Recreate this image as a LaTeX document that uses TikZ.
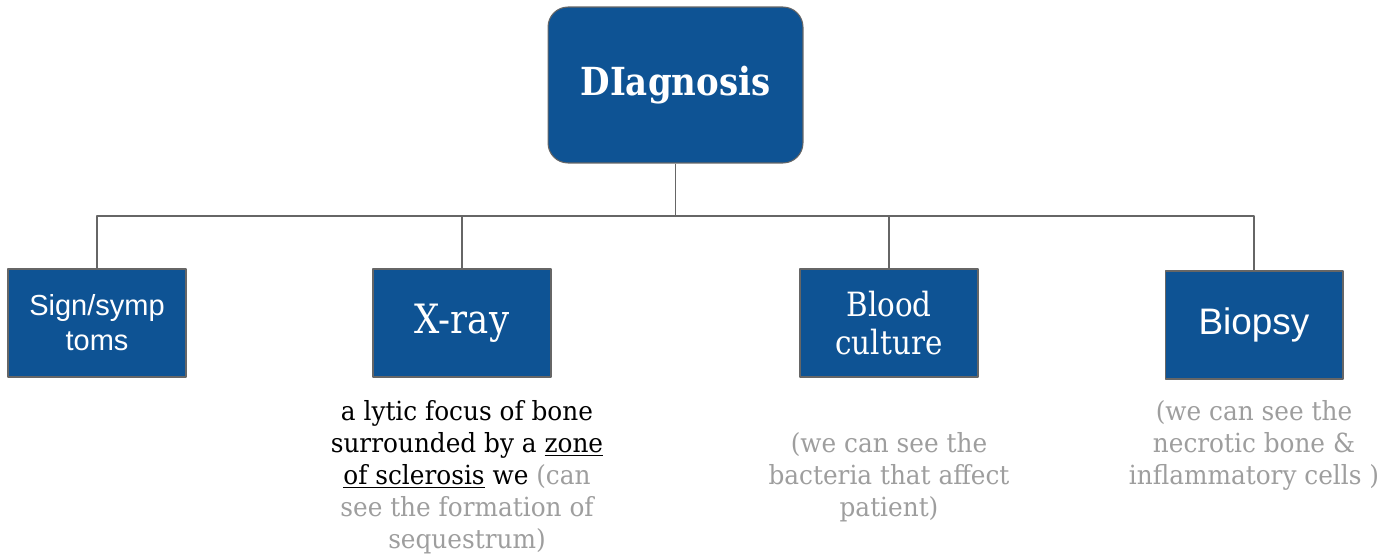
\documentclass[tikz,border=0pt]{standalone}
\usepackage{fontspec}
\setmainfont[FakeStretch=0.88]{DejaVu Serif}
\newfontfamily\notefont[FakeStretch=0.94]{DejaVu Serif}
\newfontfamily\arialfont{Liberation Sans}
\usetikzlibrary{positioning}
\definecolor{boxblue}{RGB}{14,83,148}
\definecolor{boxline}{RGB}{102,102,102}
\definecolor{notegray}{RGB}{158,158,158}
\tikzset{
  box/.style={draw=boxline, fill=boxblue, text=white, semithick, align=center,
    minimum width=3.56cm, minimum height=2.16cm, inner sep=2pt},
  note/.style={align=center, font=\notefont\fontsize{15}{18.2}\selectfont, inner sep=0pt},
  link/.style={draw=boxline, semithick}
}
\begin{document}
\begin{tikzpicture}[x=0.02cm,y=-0.02cm, line join=round]
	\useasboundingbox (0,0) rectangle (1397,555);
	% boxes
	\path
	(675.5,85) node[box, minimum width=5.1cm, minimum height=3.12cm, rounded corners=0.4cm,
	  font=\fontsize{22}{26}\selectfont\bfseries] (diag) {DIagnosis}
	(97,323) node[box, font=\arialfont\fontsize{16.5}{20}\selectfont] (sign) {Sign/symp\\toms}
	(462,323) node[box, font=\fontsize{23}{27}\selectfont] (xray) {X-ray}
	(889,323) node[box, font=\fontsize{19}{21.5}\selectfont] (blood) {Blood\\culture}
	(1254,325) node[box, font=\arialfont\fontsize{21}{25}\selectfont] (biopsy) {Biopsy};
	% connectors
	\coordinate (bus) at (675.5,216);
	\draw[link] (diag.south) -- (bus);
	\draw[link] (sign.north) |- (bus) -| (biopsy.north);
	\draw[link] (xray.north) -- (xray.north |- bus);
	\draw[link] (blood.north) -- (blood.north |- bus);
	% notes
	\path
	(467,477) node[note] (xraynote) {a lytic focus of bone\\surrounded by a \underline{zone}\\
	  \underline{of sclerosis} we \textcolor{notegray}{(can}\\
	  \textcolor{notegray}{see the formation of}\\\textcolor{notegray}{sequestrum)}}
	(889,477) node[note, text=notegray] (bloodnote) {(we can see the\\bacteria that affect\\patient)}
	(1254,445) node[note, text=notegray] (biopsynote) {(we can see the\\necrotic bone \&\\inflammatory cells )};
\end{tikzpicture}
\end{document}
